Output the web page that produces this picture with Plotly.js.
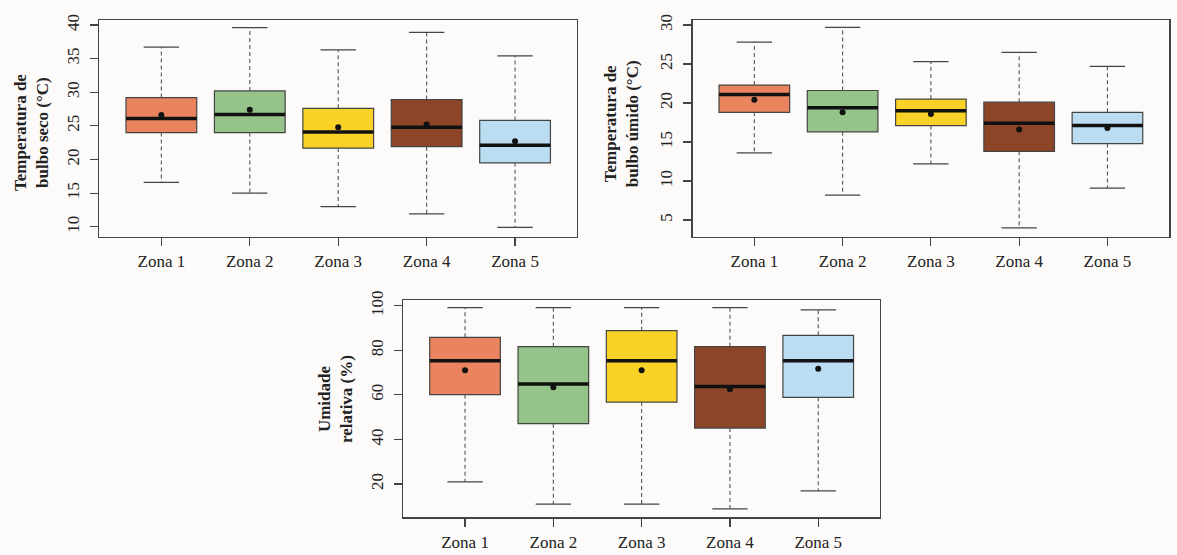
<!DOCTYPE html>
<html>
<head>
<meta charset="utf-8">
<script src="https://cdn.plot.ly/plotly-3.0.1.min.js"></script>
<style>html,body{margin:0;padding:0;background:#fdfbf9;}#chart{width:1177px;height:555px;}</style>
</head>
<body>
<div id="chart"></div>
<script>
// ---- Data ----
const zones = ['Zona 1', 'Zona 2', 'Zona 3', 'Zona 4', 'Zona 5'];
const zonePos = [1, 2, 3, 4, 5];

// Temperatura de bulbo seco (°C)
const tbsLow  = [16.6, 15.0, 13.0, 11.9, 9.9];
const tbsQ1   = [24.0, 24.0, 21.7, 21.9, 19.5];
const tbsMed  = [26.1, 26.7, 24.1, 24.8, 22.1];
const tbsQ3   = [29.2, 30.2, 27.6, 28.9, 25.8];
const tbsHigh = [36.7, 39.6, 36.3, 38.9, 35.4];
const tbsMean = [26.6, 27.4, 24.8, 25.2, 22.7];

// Temperatura de bulbo úmido (°C)
const tbuLow  = [13.6, 8.2, 12.2, 4.0, 9.1];
const tbuQ1   = [18.8, 16.3, 17.1, 13.8, 14.8];
const tbuMed  = [21.1, 19.4, 19.0, 17.4, 17.1];
const tbuQ3   = [22.3, 21.6, 20.5, 20.1, 18.8];
const tbuHigh = [27.8, 29.7, 25.3, 26.5, 24.7];
const tbuMean = [20.4, 18.8, 18.6, 16.6, 16.8];

// Umidade relativa (%)
const urLow  = [21.0, 11.0, 11.0, 8.9, 17.0];
const urQ1   = [60.1, 47.1, 56.8, 45.1, 58.9];
const urMed  = [75.3, 64.9, 75.3, 63.8, 75.3];
const urQ3   = [85.8, 81.6, 88.8, 81.6, 86.7];
const urHigh = [99.1, 99.1, 99.1, 99.1, 98.1];
const urMean = [71.1, 63.4, 71.1, 62.5, 71.7];

// ---- Styles ----
const fillColors = ['#e9845e', '#94c48a', '#f8d227', '#8c4527', '#bbddf1'];
const FONT = 'Liberation Serif, Times New Roman, serif';
const BOXW = 0.8, CAPW = 0.4;

function panel(low, q1, med, q3, high, mean, xa, ya) {
  const traces = [];
  zonePos.forEach((x, i) => {
    traces.push({
      type: 'box', x: [x], q1: [q1[i]], median: [med[i]], q3: [q3[i]],
      lowerfence: [q1[i]], upperfence: [q3[i]],
      width: BOXW, fillcolor: fillColors[i],
      line: {color: '#444', width: 1.2},
      xaxis: xa, yaxis: ya, showlegend: false, hoverinfo: 'skip'
    });
  });
  const wx = [], wy = [], cx = [], cy = [], mx = [], my = [];
  zonePos.forEach((x, i) => {
    wx.push(x, x, null, x, x, null);
    wy.push(q3[i], high[i], null, q1[i], low[i], null);
    cx.push(x - CAPW / 2, x + CAPW / 2, null, x - CAPW / 2, x + CAPW / 2, null);
    cy.push(high[i], high[i], null, low[i], low[i], null);
    mx.push(x - BOXW / 2, x + BOXW / 2, null);
    my.push(med[i], med[i], null);
  });
  traces.push({type: 'scatter', mode: 'lines', x: wx, y: wy, xaxis: xa, yaxis: ya,
    line: {color: '#555', width: 1.1, dash: '4px,3px'}, showlegend: false, hoverinfo: 'skip'});
  traces.push({type: 'scatter', mode: 'lines', x: cx, y: cy, xaxis: xa, yaxis: ya,
    line: {color: '#444', width: 1.3}, showlegend: false, hoverinfo: 'skip'});
  traces.push({type: 'scatter', mode: 'lines', x: mx, y: my, xaxis: xa, yaxis: ya,
    line: {color: '#111', width: 3.5}, showlegend: false, hoverinfo: 'skip'});
  traces.push({type: 'scatter', mode: 'markers', x: zonePos, y: mean, xaxis: xa, yaxis: ya,
    marker: {color: '#111', size: 6}, showlegend: false, hoverinfo: 'skip'});
  return traces;
}

const data = [].concat(
  panel(tbsLow, tbsQ1, tbsMed, tbsQ3, tbsHigh, tbsMean, 'x', 'y'),
  panel(tbuLow, tbuQ1, tbuMed, tbuQ3, tbuHigh, tbuMean, 'x2', 'y2'),
  panel(urLow, urQ1, urMed, urQ3, urHigh, urMean, 'x3', 'y3')
);

function xax(domain, anchor, standoff) {
  return {domain: domain, anchor: anchor, range: [0.3, 5.7],
    tickvals: zonePos, ticktext: zones, ticks: 'outside', ticklen: 8, tickwidth: 1.2,
    tickcolor: '#444', showline: true, mirror: true, linecolor: '#444', linewidth: 1.3,
    showgrid: false, zeroline: false, ticklabelstandoff: standoff,
    tickfont: {family: FONT, size: 17, color: '#222'}};
}
function yax(domain, anchor, range, dtick) {
  return {domain: domain, anchor: anchor, range: range, dtick: dtick, tick0: 0,
    ticks: 'outside', ticklen: 8, tickwidth: 1.2, tickcolor: '#444', tickangle: -90,
    showline: true, mirror: true, linecolor: '#444', linewidth: 1.3,
    showgrid: false, zeroline: false, ticklabelstandoff: 4,
    tickfont: {family: FONT, size: 17, color: '#222'}};
}

const layout = {
  width: 1177, height: 555,
  margin: {l: 0, r: 0, t: 0, b: 0},
  paper_bgcolor: '#fdfbf9', plot_bgcolor: '#fdfbf9',
  showlegend: false, boxmode: 'overlay',
  xaxis: xax([0.0845, 0.4902], 'y', 1),
  yaxis: yax([0.5735, 0.964], 'x', [8.52, 40.74], 5),
  xaxis2: xax([0.5884, 0.9934], 'y2', 1),
  yaxis2: yax([0.5735, 0.964], 'x2', [2.86, 30.64], 5),
  xaxis3: xax([0.3426, 0.7477], 'y3', 1),
  yaxis3: yax([0.0679, 0.4595], 'x3', [5.1, 102.56], 20),
  annotations: [
    {text: 'Temperatura de<br>bulbo seco (°C)', xref: 'paper', yref: 'paper',
     x: 0.0263, y: 0.762, xanchor: 'center', yanchor: 'middle', textangle: -90, showarrow: false,
     font: {family: FONT, size: 17, color: '#222', weight: 'bold'}},
    {text: 'Temperatura de<br>bulbo úmido (°C)', xref: 'paper', yref: 'paper',
     x: 0.5276, y: 0.778, xanchor: 'center', yanchor: 'middle', textangle: -90, showarrow: false,
     font: {family: FONT, size: 17, color: '#222', weight: 'bold'}},
    {text: 'Umidade<br>relativa (%)', xref: 'paper', yref: 'paper',
     x: 0.2846, y: 0.281, xanchor: 'center', yanchor: 'middle', textangle: -90, showarrow: false,
     font: {family: FONT, size: 17, color: '#222', weight: 'bold'}}
  ]
};

Plotly.newPlot('chart', data, layout, {staticPlot: true, displayModeBar: false});
</script>
</body>
</html>
